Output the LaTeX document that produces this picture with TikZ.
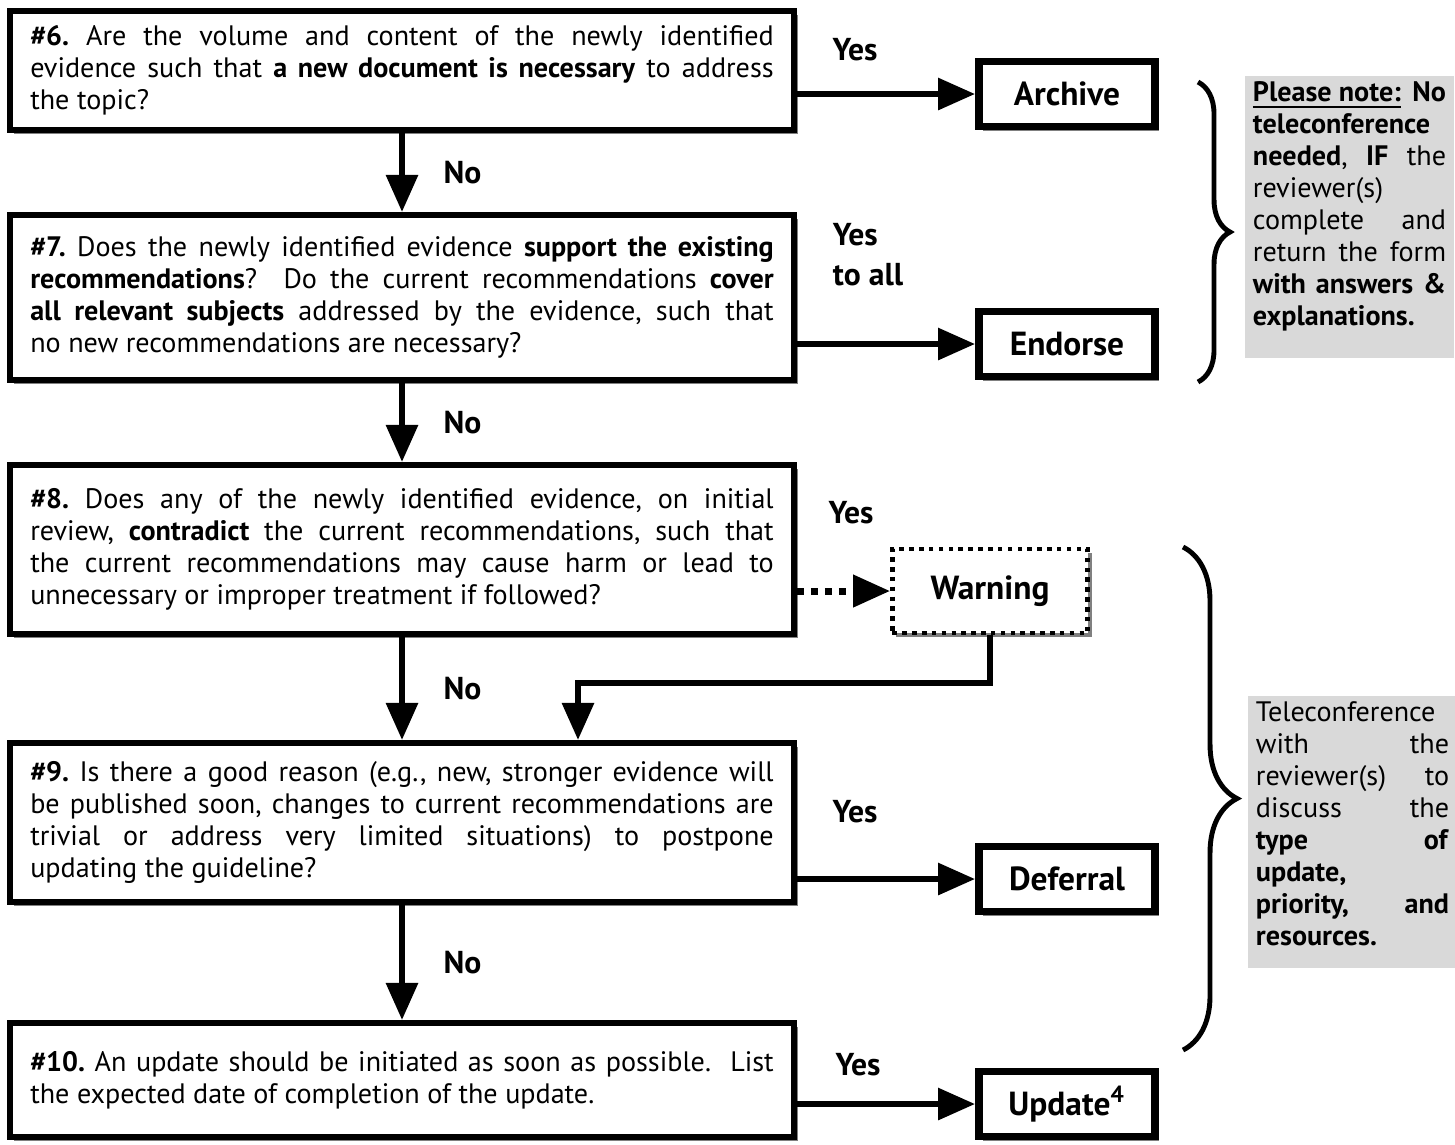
\documentclass[tikz,border=0pt]{standalone}
\usepackage{fontspec}
\setmainfont{PT Sans}
\usetikzlibrary{arrows.meta,shadows,decorations.pathreplacing}
\frenchspacing

\begin{document}
\begin{tikzpicture}[x=0.01cm, y=-0.01cm,
shdw/.style = {drop shadow={shadow xshift=0.04cm, shadow yshift=-0.04cm, fill=black!50, opacity=1}},
qbox/.style = {draw, line width=1.7pt, fill=white, text width=7.43cm, align=justify, inner xsep=0.2cm, font=\fontsize{8}{9.1}\selectfont, shdw},
obox/.style = {draw, line width=2.2pt, fill=white, minimum width=1.76cm, minimum height=0.65cm, inner sep=0pt, font=\bfseries\fontsize{9.5}{11}\selectfont, shdw},
wbox/.style = {obox, line width=1.3pt, dash pattern=on 1.3pt off 1.5pt, minimum width=1.95cm, minimum height=0.84cm},
lbl/.style = {font=\bfseries\fontsize{9}{11.4}\selectfont, inner sep=1pt},
arr/.style = {line width=1.7pt, -{Triangle[length=0.37cm, width=0.31cm]}},
note/.style = {fill=black!15, text width=1.93cm, align=justify, anchor=north, inner xsep=0.08cm, inner ysep=0.06cm, font=\fontsize{8}{9.1}\selectfont},
brc/.style = {decorate, decoration={brace, amplitude=#1}, line width=1.4pt}
]
\useasboundingbox (0,0) rectangle (1455,1144);

% questions
\node[qbox, minimum height=1.19cm] (q6) at (402,70.5) {\textbf{\#6.} Are the volume and content of the newly identified\linebreak evidence such that \textbf{a new document is necessary} to address\linebreak the topic?};
\node[qbox, minimum height=1.65cm] (q7) at (402,297.5) {\textbf{\#7.} Does the newly identified evidence \textbf{support the existing}\linebreak \textbf{recommendations}?\ \ Do the current recommendations \textbf{cover}\linebreak \textbf{all relevant subjects} addressed by the evidence, such that\linebreak no new recommendations are necessary?};
\node[qbox, minimum height=1.69cm] (q8) at (402,549.5) {\textbf{\#8.} Does any of the newly identified evidence, on initial\linebreak review, \textbf{contradict} the current recommendations, such that\linebreak the current recommendations may cause harm or lead to\linebreak unnecessary or improper treatment if followed?};
\node[qbox, minimum height=1.59cm] (q9) at (402,822.5) {\textbf{\#9.} Is there a good reason (e.g., new, stronger evidence will\linebreak be published soon, changes to current recommendations are\linebreak trivial or address very limited situations) to postpone\linebreak updating the guideline?};
\node[qbox, minimum height=1.14cm] (q10) at (402,1080) {\textbf{\#10.} An update should be initiated as soon as possible.\ \ List\linebreak the expected date of completion of the update.};

% outcomes
\node[obox] (arch) at (1067,94) {Archive};
\node[obox] (endo) at (1067,344) {Endorse};
\node[wbox] (warn) at (990,591) {Warning};
\node[obox] (defer) at (1067,879) {Deferral};
\node[obox] (upd) at (1067,1104) {Update\textsuperscript{4}};

\foreach \i/\j in {q6/q7, q7/q8, q8/q9, q9/q10}{\draw[arr] (\i) --node[lbl, midway, right=0.35cm]{No} (\j);}
\foreach \i/\j in {q6/arch, q7/endo, q9/defer, q10/upd}{\draw[arr] (\i.east |- \j) -- (\j);}
\draw[arr, line width=2pt, dash pattern=on 2pt off 2pt] (q8.east |- warn) -- (warn);
\coordinate (bend) at (578,683);
\draw[arr] (warn.south) |- (bend) -- (bend |- q9.north);

\node[lbl] (y6) at (855,50) {Yes};
\node[lbl, align=left] (y7) at (868,255) {Yes\\to all};
\node[lbl] (y8) at (851,513) {Yes};
\node[lbl] (y9) at (855,812) {Yes};
\node[lbl] (y10) at (858,1065) {Yes};

% braces and notes
\coordinate (b1) at (1198,82);
\coordinate (b2) at (1198,382);
\coordinate (b3) at (1183,547);
\coordinate (b4) at (1183,1050);
\draw[brc=0.32cm] (b1) -- (b2);
\draw[brc=0.54cm] (b3) -- (b4);
\node[note] (n1) at (1349.5,75) {\underline{\textbf{Please note:}} \textbf{No}\linebreak \textbf{teleconference}\linebreak \textbf{needed}, \textbf{IF} the\linebreak reviewer(s)\linebreak complete and\linebreak return the form\linebreak \textbf{with answers \&}\linebreak \textbf{explanations.}\rule[-0.26cm]{0pt}{0.26cm}};
\node[note] (n2) at (1352.5,695) {Teleconference\linebreak with the\linebreak reviewer(s) to\linebreak discuss the\linebreak \textbf{type of}\linebreak \textbf{update,}\linebreak \textbf{priority, and}\linebreak \textbf{resources.}\rule[-0.16cm]{0pt}{0.16cm}};
\end{tikzpicture}
\end{document}
